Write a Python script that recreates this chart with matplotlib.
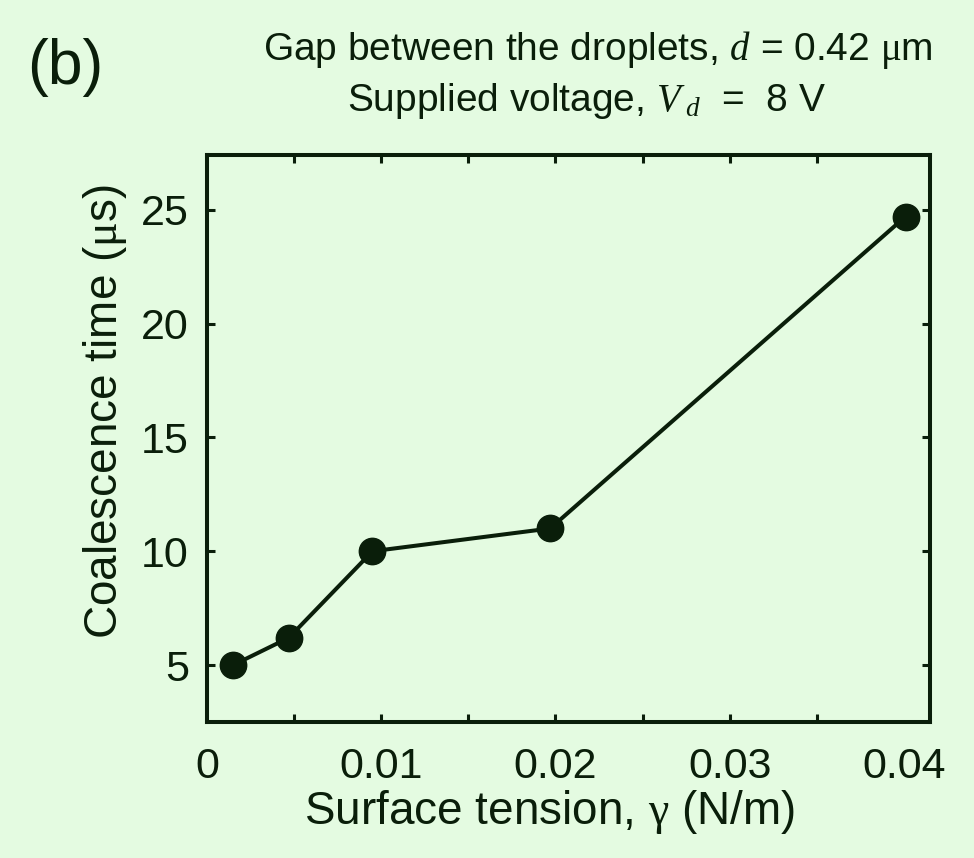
import matplotlib
matplotlib.use('Agg')
from matplotlib import pyplot as plt
from matplotlib.ticker import FixedLocator, FixedFormatter, NullFormatter

# surface tension (N/m) vs coalescence time (us)
gamma = [0.0015, 0.0047, 0.0095, 0.0197, 0.0401]
coalescenceTime = [5.0, 6.2, 10.0, 11.0, 24.7]

xTickValues = [0.0, 0.01, 0.02, 0.03, 0.04]
xTickLabels = ['0', '0.01', '0.02', '0.03', '0.04']
xTickMarks = [0.005, 0.01, 0.015, 0.02, 0.025, 0.03, 0.035]
yTickValues = [5, 10, 15, 20, 25]
yTickLabels = ['5', '10', '15', '20', '25']

BG = '#e4fbe1'
INK = '#0a1e0a'

plt.rcParams['font.family'] = ['Liberation Sans', 'DejaVu Sans']
plt.rcParams['mathtext.fontset'] = 'custom'
plt.rcParams['mathtext.rm'] = 'Liberation Serif'
plt.rcParams['mathtext.it'] = 'Liberation Serif:italic'


def main():
    fig = plt.figure(figsize=(9.74, 8.58), dpi=100, facecolor=BG)
    ax = fig.add_axes([0.2125, 0.1585, 0.7423, 0.6608])
    ax.set_facecolor(BG)

    ax.plot(gamma, coalescenceTime, '-o', color=INK, lw=2.9,
            markersize=19, markerfacecolor=INK, markeredgecolor=INK)

    ax.set_xlim(0, 0.0415)
    ax.set_ylim(2.5, 27.4)

    # labels without marks, marks every 0.005 as in the original
    ax.xaxis.set_major_locator(FixedLocator(xTickValues))
    ax.xaxis.set_major_formatter(FixedFormatter(xTickLabels))
    ax.xaxis.set_minor_locator(FixedLocator(xTickMarks))
    ax.xaxis.set_minor_formatter(NullFormatter())
    ax.xaxis.remove_overlapping_locs = False
    ax.yaxis.set_major_locator(FixedLocator(yTickValues))
    ax.yaxis.set_major_formatter(FixedFormatter(yTickLabels))

    ax.tick_params(axis='x', which='major', length=0, pad=18,
                   labelsize=31, labelcolor=INK)
    ax.tick_params(axis='x', which='minor', direction='in', length=6,
                   width=2.2, color=INK, top=True, bottom=True)
    ax.tick_params(axis='y', which='major', direction='in', length=6,
                   width=2.2, color=INK, left=True, right=True, pad=13,
                   labelsize=31, labelcolor=INK)

    for sp in ax.spines.values():
        sp.set_linewidth(2.9)
        sp.set_color(INK)

    ax.set_xlabel(r'Surface tension, $\mathrm{\gamma}$ (N/m)', fontsize=33,
                  color=INK, va='center')
    ax.xaxis.set_label_coords(0.474, -0.159)
    ax.set_ylabel(r'Coalescence time ($\mathrm{\mu}$s)', fontsize=33,
                  color=INK, va='center')
    ax.yaxis.set_label_coords(-0.141, 0.548)

    fig.text(0.614, 0.942, r'Gap between the droplets, $d$ = 0.42 $\mathrm{\mu}$m',
             fontsize=28, color=INK, ha='center', va='center')
    fig.text(0.602, 0.882, r'Supplied voltage, $V_{\;d}$  =  8 V',
             fontsize=28, color=INK, ha='center', va='center')
    fig.text(0.067, 0.921, '(b)', fontsize=45, color=INK,
             ha='center', va='center')

    fig.savefig('out.png', dpi=100, facecolor=BG)


if __name__ == '__main__':
    main()
